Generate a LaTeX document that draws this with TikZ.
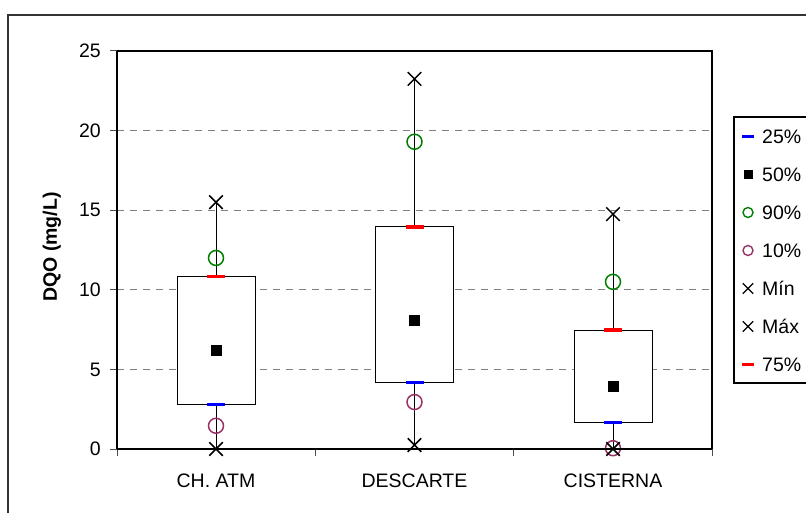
\documentclass[tikz,border=0pt]{standalone}
\usepackage{fontspec}
\setmainfont{Liberation Sans}
\usetikzlibrary{shapes.misc}
\definecolor{plum}{RGB}{153,51,102}
\definecolor{grn}{RGB}{0,128,0}
\definecolor{gridgray}{RGB}{128,128,128}
\definecolor{qblue}{RGB}{0,0,255}
\definecolor{qred}{RGB}{255,0,0}
\newcommand{\bxplot}[9]{%
  \draw[whisk] (#1,#2) -- (#1,#8);
  \draw[boxst] (#1-39,#4) rectangle (#1+39,#6);
  \draw[qbar=qred] (#1-9,#6) -- (#1+9,#6);
  \draw[qbar=qblue] (#1-9,#4) -- (#1+9,#4);
  \node[medmark] (#9-med) at (#1,#5) {};
  \node[omark=grn] (#9-p90) at (#1,#7) {};
  \node[omark=plum] (#9-p10) at (#1,#3) {};
  \node[xmark] (#9-min) at (#1,#2) {};
  \node[xmark] (#9-max) at (#1,#8) {};
}
\begin{document}
\begin{tikzpicture}[x=1pt,y=1pt,
  lbl/.style={font=\fontsize{19.5}{22}\selectfont, inner sep=0pt},
  xmark/.style={cross out, draw=black, line width=1.5pt, minimum size=12pt, inner sep=0pt},
  omark/.style={circle, draw=#1, line width=1.5pt, minimum size=15pt, inner sep=0pt},
  medmark/.style={rectangle, fill=black, minimum size=11pt, inner sep=0pt},
  qbar/.style={line width=3.5pt, draw=#1},
  boxst/.style={draw=black, fill=white, line width=0.9pt},
  gridln/.style={draw=gridgray, dash pattern=on 7pt off 6pt, line width=1.2pt},
  whisk/.style={draw=black, line width=1pt},
  tickln/.style={draw=gridgray!60!black, line width=1pt},
  lgx/.style={cross out, draw=black, line width=1.3pt, minimum size=9pt, inner sep=0pt},
  lgo/.style={circle, draw=#1, line width=1.4pt, minimum size=10pt, inner sep=0pt},
  lgsq/.style={rectangle, fill=black, minimum size=9pt, inner sep=0pt},
  ]
\useasboundingbox (0,0) rectangle (806,512);
\clip (0,0) rectangle (806,512);
\fill[white] (0,0) rectangle (806,512);
% outer chart frame
\draw[line width=1.2pt, draw=black!80] (8,-10) -- (8,497) -- (820,497);
% plot area
\begin{scope}[shift={(0,63)}, y=15.92pt]
  \foreach \v in {5,10,15,20} {\draw[gridln] (117,\v) -- (712,\v);}
  \foreach \v in {0,5,...,25} {
    \draw[tickln] (110,\v) -- (117,\v);
    \node[lbl, anchor=east] (yl\v) at (101,\v) {\v};
  }
  \draw[line width=1.3pt] (117,25) -- (712,25) -- (712,0);
  \draw[line width=1.3pt] (117,0) -- (117,25);
  \foreach \xx in {117,315.3,513.7,712} {\draw[tickln] (\xx,0) -- (\xx,-0.45);}
  \bxplot{216}{0}{1.46}{2.8}{6.2}{10.85}{12.0}{15.5}{atm}
  \bxplot{414.5}{0.25}{2.95}{4.19}{8.1}{13.96}{19.3}{23.25}{desc}
  \bxplot{613}{0}{0.05}{1.68}{3.95}{7.46}{10.5}{14.75}{cis}
  \draw[line width=2.6pt] (117,0) -- (712,0);
\end{scope}
% category labels
\node[lbl] (c1) at (216,31) {CH. ATM};
\node[lbl] (c2) at (414.5,31) {DESCARTE};
\node[lbl] (c3) at (613,31) {CISTERNA};
% axis title
\node[lbl, font=\fontsize{19.5}{22}\selectfont\bfseries, rotate=90] (ytitle) at (52,265) {DQO (mg/L)};
% legend
\draw[line width=1.2pt, fill=white] (734,129) rectangle (830,395);
\draw[line width=3.5pt, qblue] (742,375.5) -- (754,375.5);
\node[lgsq] (l2s) at (748,337.5) {};
\node[lgo=grn] (l3s) at (748,299.5) {};
\node[lgo=plum] (l4s) at (748,261.5) {};
\node[lgx] (l5s) at (748,223.5) {};
\node[lgx] (l6s) at (748,185.5) {};
\draw[line width=3.5pt, qred] (742,147.5) -- (754,147.5);
\node[lbl, anchor=west] (l1) at (762,375.5) {25\%};
\node[lbl, anchor=west] (l2) at (762,337.5) {50\%};
\node[lbl, anchor=west] (l3) at (762,299.5) {90\%};
\node[lbl, anchor=west] (l4) at (762,261.5) {10\%};
\node[lbl, anchor=west] (l5) at (762,223.5) {Mín};
\node[lbl, anchor=west] (l6) at (762,185.5) {Máx};
\node[lbl, anchor=west] (l7) at (762,147.5) {75\%};
\end{tikzpicture}
\end{document}
